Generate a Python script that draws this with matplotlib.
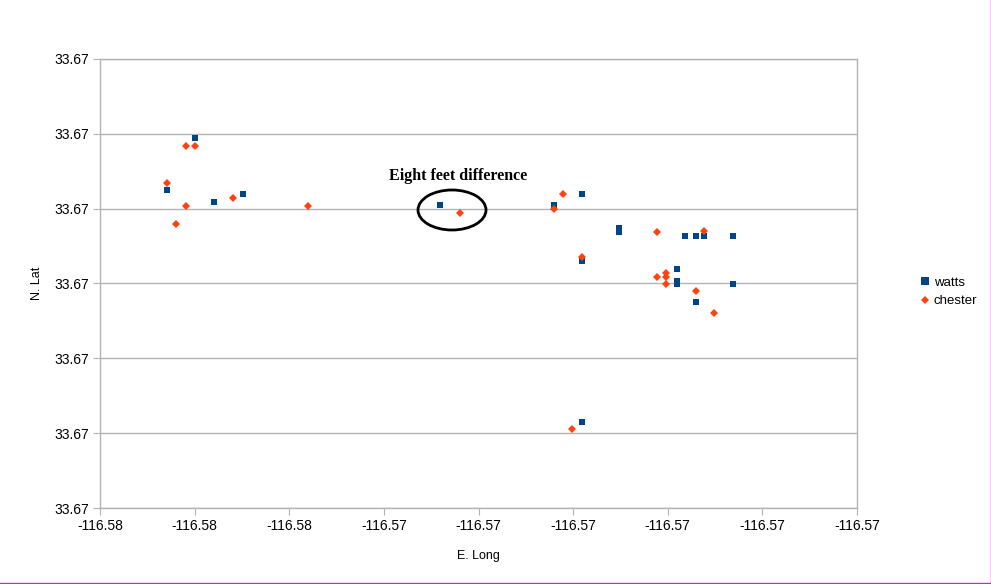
import matplotlib
matplotlib.use("Agg")
import matplotlib.pyplot as plt
import numpy as np
from matplotlib.patches import Ellipse
from matplotlib.lines import Line2D
from matplotlib.ticker import FormatStrFormatter

watts_lon = [-116.57749, -116.57794, -116.57719, -116.57674, -116.57361, -116.57181,
             -116.57136, -116.57077, -116.57077, -116.56972, -116.56956, -116.56942,
             -116.56897, -116.57136, -116.56986, -116.56986, -116.56986, -116.56897,
             -116.56956, -116.57136]
watts_lat = [33.670294, 33.670225, 33.670209, 33.670219, 33.670205, 33.670205,
             33.670219, 33.670174, 33.670169, 33.670164, 33.670164, 33.670164,
             33.670164, 33.670130, 33.670119, 33.670103, 33.670099, 33.670100,
             33.670075, 33.669915]

chester_lon = [-116.57764, -116.57749, -116.57794, -116.57689, -116.57764, -116.57570,
               -116.57779, -116.57330, -116.57166, -116.57181, -116.57017, -116.56942,
               -116.57136, -116.57002, -116.57017, -116.57002, -116.57002, -116.56956,
               -116.56927, -116.57151]
chester_lat = [33.670284, 33.670284, 33.670234, 33.670214, 33.670204, 33.670204,
               33.670179, 33.670194, 33.670219, 33.670199, 33.670169, 33.670170,
               33.670135, 33.670114, 33.670109, 33.670109, 33.670099, 33.670090,
               33.670060, 33.669905]

x_min, x_max, x_n = -116.5790, -116.5670, 9
y_min, y_max, y_n = 33.6698, 33.6704, 7

plt.rcParams['font.family'] = ['Liberation Sans', 'DejaVu Sans']

fig = plt.figure(figsize=(9.91, 5.84), dpi=100)
ax = fig.add_axes([100/991, 76/584, 757/991, 449/584])

ax.plot(watts_lon, watts_lat, linestyle='none', marker='s', markersize=4.5,
        color='#004586', markeredgewidth=0, label='watts')
ax.plot(chester_lon, chester_lat, linestyle='none', marker='D', markersize=3.8,
        color='#ff420e', markeredgewidth=0, label='chester')

ax.set_xlim(x_min, x_max)
ax.set_ylim(y_min, y_max)
ax.set_xticks(np.linspace(x_min, x_max, x_n))
ax.set_yticks(np.linspace(y_min, y_max, y_n))
ax.xaxis.set_major_formatter(FormatStrFormatter('%.2f'))
ax.yaxis.set_major_formatter(FormatStrFormatter('%.2f'))
ax.grid(axis='y', color='#b3b3b3', linewidth=1)
ax.set_axisbelow(True)
for s in ax.spines.values():
    s.set_color('#b3b3b3')
    s.set_linewidth(1)
ax.tick_params(axis='both', direction='out', length=5, color='#b3b3b3',
               labelsize=10, labelcolor='black', pad=3)

ax.set_xlabel('E. Long', fontsize=9, labelpad=12)
ax.set_ylabel('N. Lat', fontsize=9, labelpad=8)

leg = ax.legend(loc='center left', bbox_to_anchor=(1.078, 0.481), frameon=False,
                fontsize=9.5, handlelength=0.6, handletextpad=0.35, borderaxespad=0,
                labelspacing=0.45, markerscale=1.15)

ax.text(0.3818, 0.739, 'Eight feet difference', transform=ax.transAxes,
        fontsize=11.5, fontweight='bold', family='Liberation Serif', va='center', ha='left')
ax.add_patch(Ellipse((0.465, 0.6637), 0.0898, 0.0891, transform=ax.transAxes,
                     fill=False, edgecolor='black', linewidth=2))

fig.add_artist(Line2D([0.9995, 0.9995], [0, 1], transform=fig.transFigure,
                      color='#ff00ff', linewidth=1))
fig.add_artist(Line2D([0, 1], [0.0009, 0.0009], transform=fig.transFigure,
                      color='#ff00ff', linewidth=1))

fig.savefig('out.png', dpi=100, facecolor='white')
